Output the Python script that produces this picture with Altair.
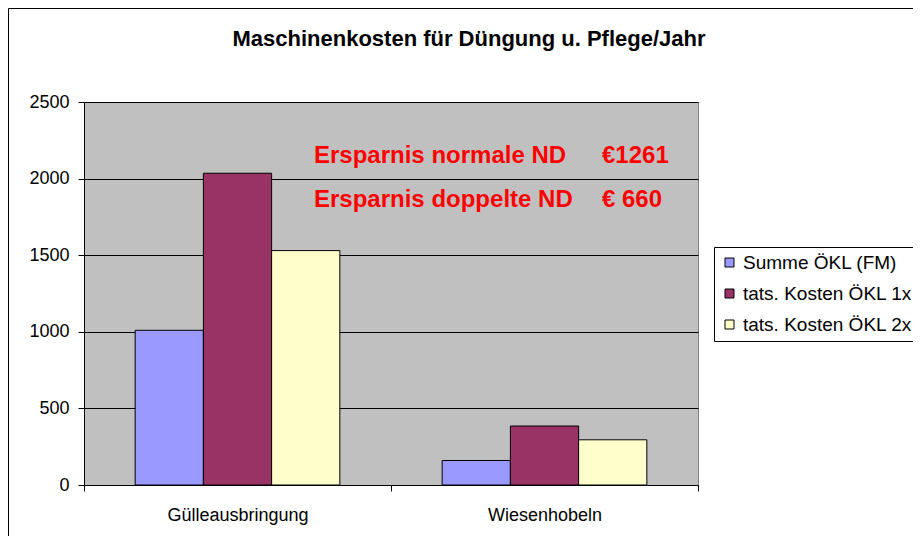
import altair as alt
import pandas as pd

categories = ["Gülleausbringung", "Wiesenhobeln"]
series = ["Summe ÖKL (FM)", "tats. Kosten ÖKL 1x", "tats. Kosten ÖKL 2x"]
summe_okl = [1010, 160]
kosten_1x = [2035, 385]
kosten_2x = [1530, 295]
colors = ["#9999FF", "#993366", "#FFFFCC"]
y_ticks = [0, 500, 1000, 1500, 2000, 2500]
title_text = "Maschinenkosten für Düngung u. Pflege/Jahr"
note_labels = ["Ersparnis normale ND", "Ersparnis doppelte ND"]
note_values = ["€1261", "€ 660"]

rows = []
for s, vals in zip(series, [summe_okl, kosten_1x, kosten_2x]):
    for c, v in zip(categories, vals):
        rows.append({"Kategorie": c, "Reihe": s, "Wert": v})
df = pd.DataFrame(rows)

W, H = 614, 383
FONT = "Liberation Sans"

bars = alt.Chart(df).mark_bar(stroke="black", strokeWidth=1).encode(
    x=alt.X(
        "Kategorie:N",
        sort=categories,
        scale=alt.Scale(paddingInner=0, paddingOuter=0),
        axis=alt.Axis(title=None, labelAngle=0, tickBand="extent", grid=False,
                      labelPadding=15, labelBaseline="top"),
    ),
    xOffset=alt.XOffset("Reihe:N", sort=series,
                        scale=alt.Scale(paddingInner=0, paddingOuter=0.75)),
    y=alt.Y(
        "Wert:Q",
        scale=alt.Scale(domain=[0, 2500], nice=False),
        axis=alt.Axis(title=None, values=y_ticks, grid=True, labelPadding=9,
                      format="d"),
    ),
    color=alt.Color(
        "Reihe:N",
        sort=series,
        scale=alt.Scale(domain=series, range=colors),
        legend=alt.Legend(
            title=None, orient="none", legendX=630, legendY=145, padding=6,
            strokeColor="black", fillColor="white", symbolType="square",
            symbolSize=81, symbolStrokeColor="black", symbolStrokeWidth=1,
            labelFont=FONT, labelFontSize=19, labelColor="black", labelLimit=0,
            rowPadding=11, labelOffset=4, cornerRadius=0,
        ),
    ),
)


def text_mark(text, x, y, size, color, align="left"):
    return alt.Chart(pd.DataFrame({"t": [text]})).mark_text(
        align=align, baseline="alphabetic", font=FONT, fontSize=size,
        fontWeight="bold", color=color,
    ).encode(x=alt.value(x), y=alt.value(y), text="t:N")


notes = [
    text_mark(note_labels[0], 230, 61, 24, "#FF0000"),
    text_mark(note_labels[1], 230, 105, 24, "#FF0000"),
    text_mark(note_values[0], 518, 61, 24, "#FF0000"),
    text_mark(note_values[1], 518, 105, 24, "#FF0000"),
]
title = text_mark(title_text, 385, -56, 22, "black", align="center")

frame_src = pd.DataFrame({"a": [0]})
frame_left = alt.Chart(frame_src).mark_rule(color="black", strokeWidth=1).encode(
    x=alt.value(-75.5), y=alt.value(-93.5), y2=alt.value(H + 60)
)
frame_top = alt.Chart(frame_src).mark_rule(color="black", strokeWidth=1).encode(
    x=alt.value(-75.5), x2=alt.value(W + 240), y=alt.value(-93.5)
)

chart = alt.layer(frame_left, frame_top, bars, title, *notes).properties(
    width=W,
    height=H,
    padding={"left": 76, "top": 94, "right": 215, "bottom": 51},
    autosize=alt.AutoSizeParams(type="none"),
    background="white",
).configure_view(
    fill="#C0C0C0", stroke="#808080", strokeWidth=1
).configure_axis(
    domainColor="black", tickColor="black", labelColor="black",
    labelFont=FONT, labelFontSize=18, gridColor="black", gridOpacity=1,
    tickSize=6, domainWidth=1, tickWidth=1, gridWidth=1,
)

chart.save("out.html", embed_options={"renderer": "svg", "actions": False})
